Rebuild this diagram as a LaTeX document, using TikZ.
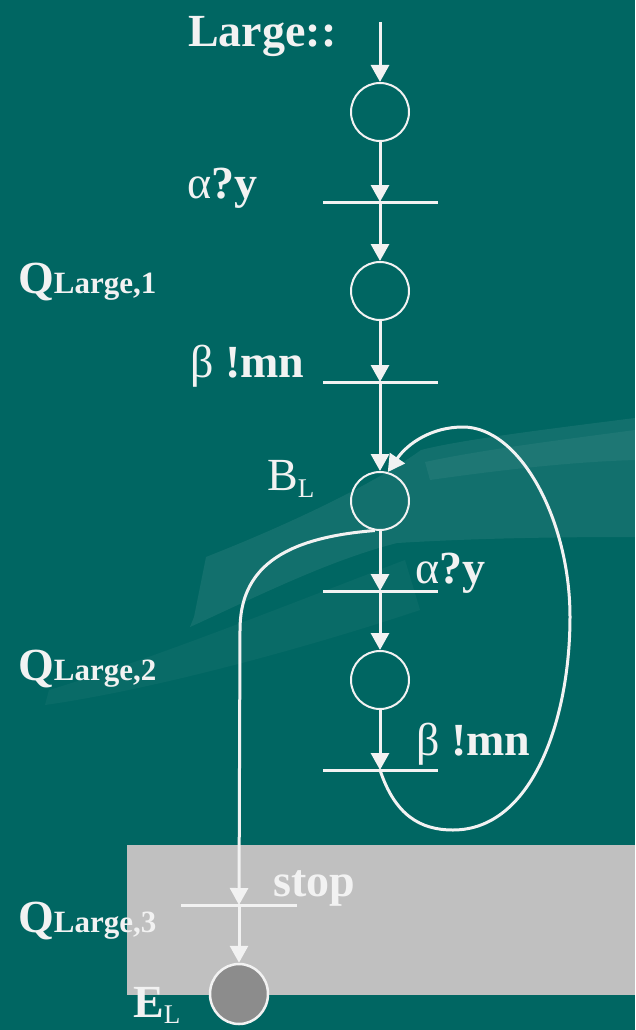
\documentclass[tikz,border=0pt]{standalone}
\usepackage{fontspec}
\setmainfont{Liberation Serif}
\usetikzlibrary{arrows.meta,shapes.geometric}
\definecolor{bgteal}{HTML}{006662}
\definecolor{fg}{HTML}{F2F2F2}
\definecolor{graybox}{HTML}{C0C0C0}
\definecolor{endfill}{HTML}{8C8C8C}
\begin{document}
\begin{tikzpicture}[x=1pt,y=-1pt,
  state/.style={circle, draw=fg, line width=2pt, minimum size=58pt, inner sep=0pt},
  endstate/.style={ellipse, draw=fg, fill=endfill, line width=2.5pt, minimum width=58pt, minimum height=60pt, inner sep=0pt},
  bar/.style={draw=fg, line width=3pt},
  flow/.style={draw=fg, line width=3pt, -{Triangle[width=18pt,length=17pt]}},
  lbl/.style={text=fg, anchor=base west, inner sep=0pt, font=\fontsize{46}{46}\selectfont}
]
\fill[bgteal] (0,0) rectangle (635,1030);
\useasboundingbox (0,0) rectangle (635,1030);
% decorative swoosh
\fill[white, opacity=0.07] (635,418) .. controls (540,430) and (460,440) .. (421,450)
  .. controls (380,480) and (300,520) .. (206,557) -- (194,617) -- (190,627)
  .. controls (260,595) and (330,560) .. (397,543) .. controls (480,538) and (560,537) .. (635,537) -- cycle;
\fill[white, opacity=0.05] (635,430) .. controls (560,440) and (480,450) .. (425,462) -- (430,480)
  .. controls (500,470) and (570,462) .. (635,460) -- cycle;
\fill[white, opacity=0.035] (405,560) .. controls (300,600) and (150,660) .. (49,690) -- (45,705)
  .. controls (150,690) and (300,650) .. (420,610) -- cycle;
% gray box
\fill[graybox] (127,845) rectangle (635,995);

% states
\node[state] (c1) at (380,112) {};
\node[state] (c2) at (380,291) {};
\node[state] (bl) at (380,501) {};
\node[state] (c3) at (380,680) {};
\node[endstate] (el) at (239,994) {};

% transitions (bars)
\coordinate (start) at (380,22);
\coordinate (t1) at (380,202);
\coordinate (t2) at (380,382);
\coordinate (t3) at (380,591);
\coordinate (t4) at (380,770);
\coordinate (t5) at (239,905);
\coordinate (bend) at (240,630);
\coordinate (lb) at (453,830);
\coordinate (lr) at (570,617);
\coordinate (lt) at (463,427);
\foreach \t in {t1,t2,t3,t4}{
  \draw[bar] ([xshift=-57pt]\t) -- ([xshift=58pt]\t);
}
\draw[bar] ([xshift=-58pt]t5) -- ([xshift=58pt]t5);

% flows
\draw[flow] (start) -- (c1);
\draw[flow] (c1) -- (t1);
\draw[flow] (t1) -- (c2);
\draw[flow] (c2) -- (t2);
\draw[flow] (t2) -- (bl);
\draw[flow] (bl) -- (t3);
\draw[flow] (t3) -- (c3);
\draw[flow] (c3) -- (t4);
\draw[flow] (t4) .. controls (395,815) and (420,830) .. (lb)
  .. controls (532,830) and (570,720) .. (lr)
  .. controls (570,520) and (520,427) .. (lt)
  .. controls (432,427) and (408,443) .. (bl.75);
\draw[flow] (bl.260) .. controls (280,538) and (240,570) .. (bend) -- (t5);
\draw[flow] (t5) -- (el);

% labels
\node[lbl] (lstart) at (188,47) {\bfseries Large::};
\node[lbl] (la1) at (187,198) {α\bfseries ?y};
\node[lbl] (lq1) at (18,293) {\bfseries Q{\fontsize{31}{31}\selectfont Large,1}};
\node[lbl] (lb1) at (190,377) {β \bfseries !mn};
\node[lbl] (lbl) at (267,490) {B\raisebox{-7pt}{\fontsize{27}{27}\selectfont L}};
\node[lbl] (la2) at (415,583) {α\bfseries ?y};
\node[lbl] (lq2) at (18,680) {\bfseries Q{\fontsize{31}{31}\selectfont Large,2}};
\node[lbl] (lb2) at (416,755) {β \bfseries !mn};
\node[lbl] (lstop) at (273,896) {\bfseries stop};
\node[lbl] (lq3) at (18,932) {\bfseries Q{\fontsize{31}{31}\selectfont Large,3}};
\node[lbl] (lel) at (133,1017) {\bfseries E\raisebox{-6pt}{\fontsize{27}{27}\selectfont\mdseries L}};
\end{tikzpicture}
\end{document}
